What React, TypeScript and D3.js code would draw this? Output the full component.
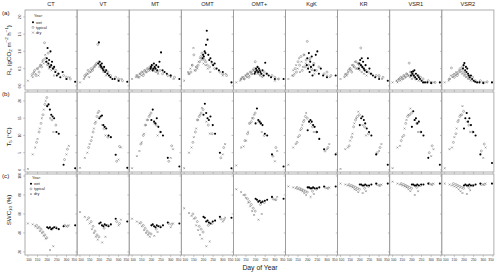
import * as d3 from "d3"

const SITES = ["CT", "VT", "MT", "OMT", "OMT+", "KgK", "KR", "VSR1", "VSR2"]

// x axis (day of year)
const DOY_TICKS = [100, 150, 200, 250, 300, 350]
const RS_TICKS = [0, 0.5, 1, 1.5, 2]
const TS_TICKS = [0, 5, 10, 15, 20]
const SWC_TICKS = [20, 40, 60, 80, 100]

// measurement days, row (a)
const DOY_A_DRY = [100, 120, 125, 132, 140, 148, 155, 160, 168, 175, 182, 190, 200, 210, 222, 235, 300, 315]
const DOY_A_TYP = [125, 135, 142, 150, 158, 165, 172, 180, 186, 192, 198, 205, 212, 220, 232, 245, 258, 285, 300, 320]
const DOY_A_WET = [195, 198, 202, 206, 210, 213, 217, 221, 225, 230, 236, 242, 250, 258, 268, 280, 300, 345]

// measurement days, rows (b) and (c)
const DOY_BC_DRY = [100, 125, 138, 150, 162, 172, 182, 192, 215, 232, 300, 312]
const DOY_BC_TYP = [145, 158, 168, 178, 188, 198, 225, 245, 290, 305]
const DOY_BC_WET = [200, 207, 214, 221, 228, 236, 248, 260, 285, 345]

// Rs per site
const RS_DRY = [
  [0.15, 0.3, 0.25, 0.4, 0.35, 0.5, 0.3, 0.55, 0.6, 0.7, 0.65, 0.9, 0.6, 0.5, 0.45, 0.3, 0.2, 0.25],
  [0.1, 0.2, 0.25, 0.3, 0.35, 0.25, 0.4, 0.45, 0.5, 0.55, 0.6, 0.65, 0.55, 0.5, 0.4, 0.3, 0.15, 0.2],
  [0.2, 0.25, 0.3, 0.25, 0.35, 0.3, 0.4, 0.35, 0.45, 0.4, 0.5, 0.45, 0.5, 0.45, 0.4, 0.35, 0.25, 0.2],
  [0.15, 0.4, 0.35, 0.5, 0.6, 1.1, 0.45, 0.55, 0.5, 0.7, 0.8, 0.75, 0.65, 0.6, 0.5, 0.4, 0.3, 0.35],
  [0.1, 0.15, 0.2, 0.25, 0.2, 0.3, 0.25, 0.35, 0.3, 0.4, 0.35, 0.45, 0.4, 0.35, 0.3, 0.25, 0.15, 0.2],
  [0.2, 0.3, 0.45, 0.35, 0.6, 0.5, 0.8, 0.4, 0.7, 0.55, 0.9, 0.65, 0.5, 0.75, 0.45, 0.35, 0.3, 0.25],
  [0.2, 0.25, 0.35, 0.3, 0.4, 0.5, 0.45, 0.6, 0.55, 0.7, 0.5, 0.65, 0.45, 0.4, 0.35, 0.3, 0.25, 0.2],
  [0.1, 0.15, 0.1, 0.2, 0.15, 0.25, 0.2, 0.3, 0.25, 0.35, 0.3, 0.25, 0.2, 0.3, 0.2, 0.15, 0.1, 0.1],
  [0.1, 0.15, 0.2, 0.3, 0.25, 0.35, 0.3, 0.4, 0.35, 0.45, 0.4, 0.35, 0.3, 0.25, 0.2, 0.15, 0.1, 0.1],
]
const RS_TYP = [
  [0.35, 0.45, 0.3, 0.5, 0.4, 0.6, 0.55, 0.75, 1.25, 0.8, 0.7, 0.95, 0.6, 0.55, 0.5, 0.45, 0.35, 0.3, 0.25, 0.2],
  [0.3, 0.35, 0.45, 0.4, 0.5, 0.45, 0.55, 0.6, 0.65, 1.2, 0.7, 0.6, 0.55, 0.5, 0.45, 0.4, 0.3, 0.25, 0.2, 0.15],
  [0.3, 0.25, 0.35, 0.4, 0.3, 0.45, 0.4, 0.5, 0.45, 0.55, 0.5, 0.6, 0.45, 0.5, 0.4, 0.45, 0.35, 0.3, 0.3, 0.25],
  [0.35, 0.4, 0.6, 0.9, 0.45, 0.55, 0.6, 0.7, 0.85, 0.95, 0.8, 0.75, 0.7, 0.6, 0.55, 0.65, 0.5, 0.4, 0.35, 0.3],
  [0.2, 0.25, 0.2, 0.3, 0.35, 0.25, 0.4, 0.35, 0.45, 0.5, 0.7, 0.45, 0.4, 0.35, 0.3, 0.4, 0.35, 0.3, 0.25, 0.2],
  [0.3, 0.5, 0.4, 0.7, 0.6, 0.85, 0.45, 0.9, 0.55, 0.75, 1.29, 0.6, 0.8, 0.5, 0.65, 0.45, 0.55, 0.35, 0.4, 0.3],
  [0.3, 0.35, 0.45, 0.5, 0.4, 0.6, 0.55, 0.7, 0.5, 0.65, 0.6, 1.1, 0.55, 0.5, 0.45, 0.4, 0.35, 0.3, 0.3, 0.25],
  [0.15, 0.2, 0.25, 0.2, 0.3, 0.25, 0.35, 0.3, 0.66, 0.4, 0.3, 0.35, 0.25, 0.2, 0.3, 0.25, 0.2, 0.15, 0.1, 0.1],
  [0.2, 0.52, 0.3, 0.25, 0.35, 0.3, 0.4, 0.5, 0.45, 0.55, 0.4, 0.35, 0.3, 0.25, 0.2, 0.25, 0.15, 0.15, 0.1, 0.12],
]
const RS_WET = [
  [0.7, 0.8, 1.1, 0.65, 0.75, 0.55, 1.0, 0.6, 0.7, 0.5, 0.55, 0.4, 0.3, 0.35, 0.25, 0.4, 0.2, 0.12],
  [0.65, 1.26, 0.7, 0.6, 0.55, 0.65, 0.5, 0.45, 0.55, 0.4, 0.45, 0.35, 0.3, 0.25, 0.2, 0.2, 0.15, 0.12],
  [0.5, 0.55, 0.6, 0.45, 0.5, 0.65, 0.55, 0.5, 0.6, 0.45, 0.55, 0.7, 0.97, 0.45, 0.4, 0.35, 0.3, 0.2],
  [0.8, 0.9, 0.85, 1.0, 0.95, 1.19, 1.6, 1.34, 0.9, 0.75, 0.8, 0.7, 0.6, 0.65, 0.5, 0.45, 0.4, 0.1],
  [0.35, 0.4, 0.5, 0.45, 0.55, 0.4, 0.5, 0.45, 0.4, 0.35, 0.45, 0.3, 0.67, 0.35, 0.3, 0.25, 0.2, 0.2],
  [0.6, 0.8, 0.5, 0.95, 0.4, 0.7, 0.55, 0.85, 0.3, 0.6, 0.45, 0.9, 1.0, 0.35, 0.5, 0.3, 0.25, 0.3],
  [0.5, 0.65, 0.75, 0.6, 0.8, 0.55, 0.7, 0.5, 0.45, 0.6, 0.4, 0.8, 0.5, 0.35, 0.3, 0.25, 0.2, 0.15],
  [0.3, 0.4, 0.35, 0.42, 0.3, 0.45, 0.25, 0.35, 0.2, 0.3, 0.25, 0.2, 0.15, 0.1, 0.1, 0.1, 0.08, 0.1],
  [0.5, 0.6, 0.66, 0.45, 0.55, 0.4, 0.5, 0.35, 0.3, 0.25, 0.3, 0.2, 0.15, 0.12, 0.1, 0.1, 0.08, 0.1],
]

// soil temperature at 5 cm
const TS_DRY = [
  [0.3, 4.5, 6.5, 9, 12, 15, 17.5, 20, 15, 11, 4.5, 7],
  [0.6, 3.5, 5, 7.5, 9.5, 12, 14, 16.5, 13, 10, 3, 6.5],
  [0.5, 4, 5.5, 8, 10.5, 13, 14.5, 16, 13.5, 10, 3.5, 6],
  [0.5, 5, 6.5, 9.5, 12, 14.5, 16, 18, 14, 10.5, 4.5, 7.5],
  [1.3, 6.5, 6.8, 8.5, 11, 13.5, 15, 16, 14, 11, 2.5, 5.5],
  [1.5, 6.5, 7.5, 9.5, 11.5, 13, 14.5, 16.5, 13.5, 11, 6, 7.5],
  [0.3, 6, 6.5, 8.5, 10.5, 13.5, 15, 16.9, 13, 10, 5.5, 7.5],
  [0.5, 6.5, 7, 9.5, 12, 14.5, 16, 17.8, 14.5, 11, 4, 6],
  [0.5, 6, 6.5, 9.5, 12, 14.5, 16, 18.5, 14, 11, 3.5, 6.5],
]
const TS_TYP = [
  [8, 11, 13.5, 16, 19, 21, 14.5, 13, 3, 6],
  [6.5, 8.5, 11, 13.5, 15.5, 17, 12, 9.5, 2.5, 6.8],
  [7.5, 10, 13, 14.5, 15.5, 16.5, 13, 11, 2.5, 7],
  [8, 11, 14.5, 15.5, 16.5, 17.5, 13, 10.5, 3.5, 6.5],
  [8.5, 10.5, 13.5, 14, 15, 16.5, 13.5, 10, 4, 6.5],
  [8, 10, 12, 14, 15.5, 15, 12.5, 11, 5.5, 6.5],
  [7, 9.5, 12.5, 14.5, 15.5, 16, 12.5, 10.5, 5, 6.5],
  [8.5, 10, 13.5, 15.5, 16, 16.5, 13.5, 11, 5, 7],
  [8, 10.5, 14, 15.5, 16, 17, 13, 11, 5.5, 7.5],
]
const TS_WET = [
  [18.5, 19, 17.5, 16, 15.5, 15, 11, 10.5, 1.5, 0.5],
  [15, 15.5, 15.8, 13, 12.5, 12, 10, 9.5, 4.4, 0.6],
  [14.5, 17.5, 14, 13.5, 15, 12.5, 11, 10, 3.5, 1],
  [16, 19.2, 16.5, 15, 14.5, 15.5, 13, 10.5, 5, 0.5],
  [13.5, 17.8, 14.5, 14, 13.5, 13, 10.5, 10, 4.5, 1],
  [11.5, 14, 14.5, 14, 13, 12.5, 11, 9, 6, 4.5],
  [13, 15, 15.5, 14.5, 13.5, 12, 11, 10, 4.5, 1.5],
  [12.5, 17, 14.5, 15, 13.5, 14, 11, 10, 3.5, 1.5],
  [12, 15, 16.5, 14, 15, 13, 11, 10, 4.5, 2],
]

// soil water content at 10 cm
const SWC_DRY = [
  [50, 49, 47, 45, 42, 40, 37, 34, 22, 26, 47, 48],
  [62, 57, 54, 50, 44, 40, 36, 33, 30, 36, 48, 54],
  [55, 52, 50, 47, 43, 40, 38, 36, 37, 41, 46, 50],
  [66, 61, 58, 55, 48, 43, 38, 34, 26, 31, 52, 56],
  [86, 83, 80, 77, 72, 68, 63, 59, 54, 60, 75, 78],
  [89, 88, 87, 86, 85, 84, 82, 80, 78, 81, 87, 88],
  [92, 91, 90, 89, 88, 86, 85, 83, 82, 84, 90, 91],
  [94, 92, 91, 90, 89, 88, 86, 84, 80, 84, 91, 92],
  [92, 91, 90, 89, 88, 86, 84, 82, 81, 85, 91, 92],
]
const SWC_TYP = [
  [48, 46, 44, 41, 38, 35, 44, 46, 48, 47],
  [56, 52, 47, 42, 38, 36, 45, 48, 52, 50],
  [51, 48, 45, 42, 40, 39, 44, 47, 50, 49],
  [60, 56, 52, 47, 44, 41, 48, 50, 55, 54],
  [80, 76, 73, 70, 66, 63, 70, 72, 76, 75],
  [88, 87, 86, 85, 84, 83, 84, 86, 88, 87],
  [91, 90, 89, 88, 87, 86, 87, 89, 91, 90],
  [92, 91, 90, 89, 88, 87, 88, 90, 92, 91],
  [92, 91, 90, 89, 88, 87, 88, 90, 91, 91],
]
const SWC_WET = [
  [46, 45, 46, 44, 45, 46, 45, 44, 47, 48],
  [50, 51, 48, 47, 49, 48, 47, 49, 55, 52],
  [48, 49, 47, 46, 48, 47, 46, 48, 51, 50],
  [57, 56, 52, 53, 51, 50, 52, 53, 57, 56],
  [76, 75, 73, 74, 72, 73, 74, 75, 78, 76],
  [88, 88, 87, 87, 88, 87, 87, 88, 89, 89],
  [91, 91, 90, 90, 91, 90, 90, 91, 92, 92],
  [91, 91, 90, 90, 91, 90, 91, 91, 92, 92],
  [90, 91, 90, 90, 91, 90, 90, 91, 92, 92],
]

const FONT = "'Liberation Sans', Arial, sans-serif"
const GREY = "#7a7a7a"
const FRAME = "#9a9a9a"

const X0 = 25
const PW = 52.1

type Row = {
  label: string
  top: number
  bottom: number
  domain: [number, number]
  ticks: number[]
  fmt: (v: number) => string
  days: [number[], number[], number[]] // dry, typ, wet
  vals: [number[][], number[][], number[][]]
}

const ROWS: Row[] = [
  { label: "(a)", top: 10, bottom: 90, domain: [-0.12, 2.2], ticks: RS_TICKS, fmt: d3.format(".1f"),
    days: [DOY_A_DRY, DOY_A_TYP, DOY_A_WET], vals: [RS_DRY, RS_TYP, RS_WET] },
  { label: "(b)", top: 92, bottom: 172, domain: [-0.6, 22.6], ticks: TS_TICKS, fmt: String,
    days: [DOY_BC_DRY, DOY_BC_TYP, DOY_BC_WET], vals: [TS_DRY, TS_TYP, TS_WET] },
  { label: "(c)", top: 174, bottom: 255, domain: [16.8, 102.1], ticks: SWC_TICKS, fmt: String,
    days: [DOY_BC_DRY, DOY_BC_TYP, DOY_BC_WET], vals: [SWC_DRY, SWC_TYP, SWC_WET] },
]

function Sym({ kind, x, y }: { kind: number; x: number; y: number }) {
  if (kind === 2) return <circle cx={x} cy={y} r={1.05} fill="#000" />
  if (kind === 1) return <circle cx={x} cy={y} r={1.0} fill="none" stroke={GREY} strokeWidth={0.55} />
  const s = 0.9
  return (
    <path d={`M${x - s},${y - s}L${x + s},${y + s}M${x - s},${y + s}L${x + s},${y - s}`}
      stroke={GREY} strokeWidth={0.6} />
  )
}

function Legend({ x, y }: { x: number; y: number }) {
  const items = ["wet", "typical", "dry"]
  return (
    <g fontFamily={FONT} fontSize={3.8} fill="#222">
      <text x={x} y={y}>Year:</text>
      {items.map((t, i) => (
        <g key={t}>
          <Sym kind={2 - i} x={x - 1} y={y + 6.5 + i * 5.2 - 1.3} />
          <text x={x + 2} y={y + 6.5 + i * 5.2}>{t}</text>
        </g>
      ))}
    </g>
  )
}

export default function App() {
  const W = 500, H = 275
  return (
    <div style={{ position: "absolute", left: 0, top: 0 }}>
      <svg width={W} height={H} style={{ display: "block", background: "#fff" }}>
        {ROWS.map((row, ri) => {
          const y = d3.scaleLinear().domain(row.domain).range([row.bottom, row.top])
          return (
            <g key={row.label}>
              <text x={2} y={row.top + (ri === 0 ? 5 : 4)} fontFamily={FONT} fontSize={6.2} fill="#222">{row.label}</text>
              {SITES.map((site, si) => {
                const left = X0 + si * PW
                const x = d3.scaleLinear().domain([85, 355]).range([left, left + PW])
                return (
                  <g key={site}>
                    {ri === 0 && (
                      <text x={left + PW / 2} y={6} textAnchor="middle" fontFamily={FONT} fontSize={5.6} fill="#222">{site}</text>
                    )}
                    {row.days.map((days, k) =>
                      days.map((d, j) => (
                        <Sym key={`${k}-${j}`} kind={k} x={x(d)} y={y(row.vals[k][si][j])} />
                      ))
                    )}
                    <rect x={left} y={row.top} width={PW} height={row.bottom - row.top}
                      fill="none" stroke={FRAME} strokeWidth={0.8} />
                    {row.ticks.map((t) => (
                      <line key={t} x1={left - 1.8} x2={left} y1={y(t)} y2={y(t)} stroke={FRAME} strokeWidth={0.6} />
                    ))}
                    {DOY_TICKS.map((t) => (
                      <line key={t} x1={x(t)} x2={x(t)} y1={row.bottom} y2={row.bottom + 1.8} stroke={FRAME} strokeWidth={0.6} />
                    ))}
                    {ri === 2 && DOY_TICKS.map((t, ti) => {
                      const first = ti === 0, last = ti === DOY_TICKS.length - 1
                      return (
                        <text key={t} x={first ? x(t) - 1.7 : last ? x(t) + 0.9 : x(t)} y={261}
                          textAnchor={first ? "start" : last ? "end" : "middle"}
                          fontFamily={FONT} fontSize={3.3} fill="#333">{t}</text>
                      )
                    })}
                    {si === 0 && row.ticks.map((t) => (
                      <text key={t} transform={`translate(${left - 4},${y(t)}) rotate(-90)`} textAnchor="middle"
                        fontFamily={FONT} fontSize={3.4} fill="#333">{row.fmt(t)}</text>
                    ))}
                  </g>
                )
              })}
            </g>
          )
        })}

        <Legend x={34} y={17} />
        <Legend x={32} y={178.5} />

        {/* y titles */}
        <text transform="translate(10.5,50) rotate(-90)" textAnchor="middle" fontFamily={FONT} fontSize={6.2} fill="#222">
          R<tspan fontSize={4.4} dy={1.3}>s</tspan><tspan dy={-1.3}> (gCO</tspan><tspan fontSize={4.4} dy={1.3}>2</tspan>
          <tspan dy={-1.3}> m</tspan><tspan fontSize={4.4} dy={-2.2}>−2</tspan><tspan dy={2.2}> h</tspan>
          <tspan fontSize={4.4} dy={-2.2}>−1</tspan><tspan dy={2.2}>)</tspan>
        </text>
        <text transform="translate(10.5,137) rotate(-90)" textAnchor="middle" fontFamily={FONT} fontSize={6.2} fill="#222">
          T<tspan fontSize={4.4} dy={1.3}>5</tspan><tspan dy={-1.3}> (°C)</tspan>
        </text>
        <text transform="translate(10.5,210) rotate(-90)" textAnchor="middle" fontFamily={FONT} fontSize={6.2} fill="#222">
          SWC<tspan fontSize={4.4} dy={1.3}>10</tspan><tspan dy={-1.3}> (%)</tspan>
        </text>

        <text x={260} y={270} textAnchor="middle" fontFamily={FONT} fontSize={6.8} fill="#222">Day of Year</text>
      </svg>
    </div>
  )
}
